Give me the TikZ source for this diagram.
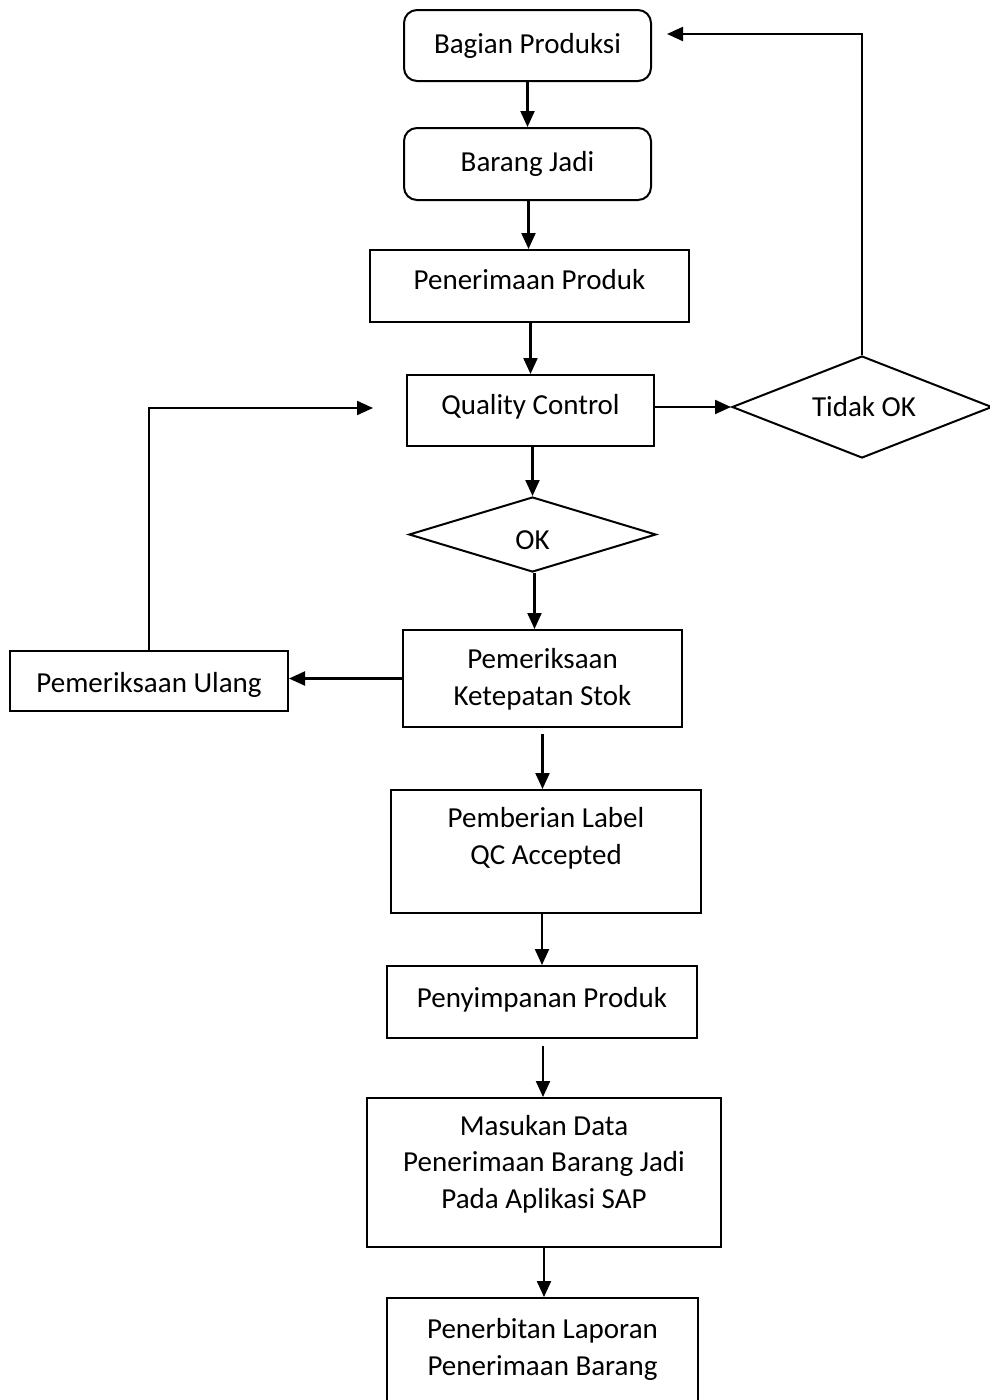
\documentclass[tikz,border=0pt]{standalone}
\usepackage{fontspec}
\setmainfont{Carlito}
\usetikzlibrary{shapes.geometric,arrows.meta}
\begin{document}
\begin{tikzpicture}[x=1pt,y=-1pt,
  box/.style={draw,line width=2pt,inner sep=0pt,rectangle},
  rbox/.style={box,rounded corners=13pt},
  dia/.style={draw,line width=2pt,inner sep=0pt,diamond},
  txt/.style={anchor=base,align=center,inner sep=0pt,font=\fontsize{29}{36.5}\selectfont},
  arr/.style={line width=2.2pt,-{Triangle[length=16pt,width=14pt]}}]
\useasboundingbox (0,0) rectangle (989,1400);
% boxes
\node[rbox,minimum width=247,minimum height=71] (bp) at (527.5,45.5) {};
\node[rbox,minimum width=247,minimum height=72] (bj) at (527.5,164) {};
\node[box,minimum width=319,minimum height=72] (pp) at (529.5,286) {};
\node[box,minimum width=247,minimum height=71] (qc) at (530.5,410.5) {};
\node[dia,minimum width=260,minimum height=102] (tok) at (862,407) {};
\node[dia,minimum width=247,minimum height=75] (ok) at (532.5,534.5) {};
\node[box,minimum width=278,minimum height=60] (pu) at (149,681) {};
\node[box,minimum width=279,minimum height=97] (pks) at (542.5,678.5) {};
\node[box,minimum width=310,minimum height=123] (lbl) at (546,851.5) {};
\node[box,minimum width=310,minimum height=72] (ps) at (542,1002) {};
\node[box,minimum width=354,minimum height=149] (md) at (544,1172.5) {};
\node[box,minimum width=311,minimum height=140] (pl) at (542.5,1368) {};
% texts
\node[txt] (tbp) at (527.5,53) {Bagian Produksi};
\node[txt] (tbj) at (527.5,171) {Barang Jadi};
\node[txt] (tpp) at (529.5,289) {Penerimaan Produk};
\node[txt] (tqc) at (530.5,414) {Quality Control};
\node[txt] (ttok) at (864,416) {Tidak OK};
\node[txt] (tok2) at (532.5,549) {OK};
\node[txt] (tpu) at (149,692) {Pemeriksaan Ulang};
\node[txt] (tpks) at (542.5,705) {Pemeriksaan\\Ketepatan Stok};
\node[txt] (tlbl) at (546,864) {Pemberian Label\\QC Accepted};
\node[txt] (tps) at (542,1007) {Penyimpanan Produk};
\node[txt] (tmd) at (544,1208) {Masukan Data\\Penerimaan Barang Jadi\\Pada Aplikasi SAP};
\node[txt] (tpl) at (542.5,1375) {Penerbitan Laporan\\Penerimaan Barang};
% free ends
\coordinate (bpin) at (667,34);
\coordinate (qcin) at (373,408);
% connectors
\draw[arr] (bp.south) -- (bp.south |- bj.north);
\draw[arr] ([xshift=1pt]bj.south) -- ([xshift=1pt]bj.south |- pp.north);
\draw[arr] ([xshift=1pt]pp.south) -- ([xshift=1pt]pp.south |- qc.north);
\draw[arr] ([xshift=2pt]qc.south) -- ([xshift=2pt]qc.south |- ok.north);
\draw[arr] ([xshift=2pt]ok.south) -- ([xshift=2pt]ok.south |- pks.north);
\draw[arr] ([yshift=-6pt]pks.south) -- (pks.south |- lbl.north);
\draw[arr] (lbl.south -| ps.north) -- (ps.north);
\draw[arr] ([yshift=-7pt,xshift=1pt]ps.south) -- ([xshift=1pt]ps.south |- md.north);
\draw[arr] (md.south) -- (md.south |- pl.north);
\draw[arr] (qc.east |- tok.west) -- (tok.west);
\draw[arr] (tok.north) |- (bpin);
\draw[arr] (pks.west) -- (pks.west -| pu.east);
\draw[arr] (pu.north) |- (qcin);
\end{tikzpicture}
\end{document}
